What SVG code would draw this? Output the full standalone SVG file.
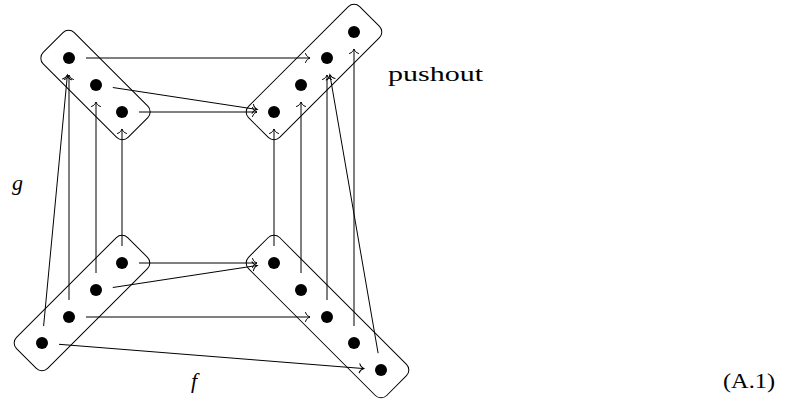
<svg xmlns="http://www.w3.org/2000/svg" width="786" height="411" viewBox="0 0 786 411">
<defs>
<style>
.box{fill:none;stroke:#000;stroke-width:1}
.dot{fill:#000}
.c line{stroke:#000;stroke-width:1;fill:none;marker-end:url(#to)}
.lbl{font-family:"Liberation Serif","DejaVu Serif",serif;fill:#000}
.it{font-style:italic}
</style>
<marker id="to" markerUnits="userSpaceOnUse" viewBox="-6 -6 8 12" refX="0" refY="0" markerWidth="8" markerHeight="12" orient="auto" overflow="visible">
<path d="M-4.5,-4.5 C-3.8,-1.8 -1.4,-0.5 0,0 C-1.4,0.5 -3.8,1.8 -4.5,4.5" fill="none" stroke="#000" stroke-width="1" stroke-linecap="round"/>
</marker>
</defs>
<rect width="786" height="411" fill="#fff"/>
<g id="connectors" class="c">
<line x1="86" y1="58" x2="310" y2="58"/>
<line x1="112.8" y1="87.5" x2="257.2" y2="109.5"/>
<line x1="139" y1="112" x2="257" y2="112"/>
<line x1="139" y1="263" x2="257" y2="263"/>
<line x1="112.8" y1="287.5" x2="257.2" y2="265.5"/>
<line x1="86" y1="317" x2="310" y2="317"/>
<line x1="59" y1="344.3" x2="364" y2="368.6"/>
<line x1="43.6" y1="326.1" x2="67.4" y2="74.9"/>
<line x1="69" y1="300" x2="69" y2="75"/>
<line x1="96" y1="273" x2="96" y2="102"/>
<line x1="122" y1="246" x2="122" y2="129"/>
<line x1="274" y1="246" x2="274" y2="129"/>
<line x1="301" y1="273" x2="301" y2="102"/>
<line x1="327" y1="300" x2="327" y2="75"/>
<line x1="354" y1="326" x2="354" y2="49"/>
<line x1="378.1" y1="353.2" x2="329.9" y2="74.8"/>
</g>
<g id="topLeft">
<rect class="box" x="-60" y="-22" width="120" height="44" rx="8" transform="translate(95.5 85) rotate(45)"/>
<circle class="dot" cx="69" cy="58" r="6"/>
<circle class="dot" cx="96" cy="85" r="6"/>
<circle class="dot" cx="122" cy="112" r="6"/>
</g>
<g id="topRight">
<rect class="box" x="-78.6" y="-22" width="157.2" height="44" rx="8" transform="translate(314 72) rotate(-45)"/>
<circle class="dot" cx="274" cy="112" r="6"/>
<circle class="dot" cx="301" cy="85" r="6"/>
<circle class="dot" cx="327" cy="58" r="6"/>
<circle class="dot" cx="354" cy="32" r="6"/>
</g>
<g id="bottomLeft">
<rect class="box" x="-78.6" y="-22" width="157.2" height="44" rx="8" transform="translate(82 303) rotate(-45)"/>
<circle class="dot" cx="122" cy="263" r="6"/>
<circle class="dot" cx="96" cy="290" r="6"/>
<circle class="dot" cx="69" cy="317" r="6"/>
<circle class="dot" cx="42" cy="343" r="6"/>
</g>
<g id="bottomRight">
<rect class="box" x="-97.7" y="-22" width="195.4" height="44" rx="8" transform="translate(327.5 316.5) rotate(45)"/>
<circle class="dot" cx="274" cy="263" r="6"/>
<circle class="dot" cx="301" cy="290" r="6"/>
<circle class="dot" cx="327" cy="317" r="6"/>
<circle class="dot" cx="354" cy="343" r="6"/>
<circle class="dot" cx="381" cy="370" r="6"/>
</g>
<g id="labels">
<text class="lbl it" x="12" y="190" font-size="22">g</text>
<text class="lbl it" x="191" y="388" font-size="22">f</text>
<text class="lbl" x="388" y="81" font-size="22" textLength="95" lengthAdjust="spacingAndGlyphs">pushout</text>
<text class="lbl" x="723" y="388" font-size="20" textLength="52" lengthAdjust="spacingAndGlyphs">(A.1)</text>
</g>
</svg>
